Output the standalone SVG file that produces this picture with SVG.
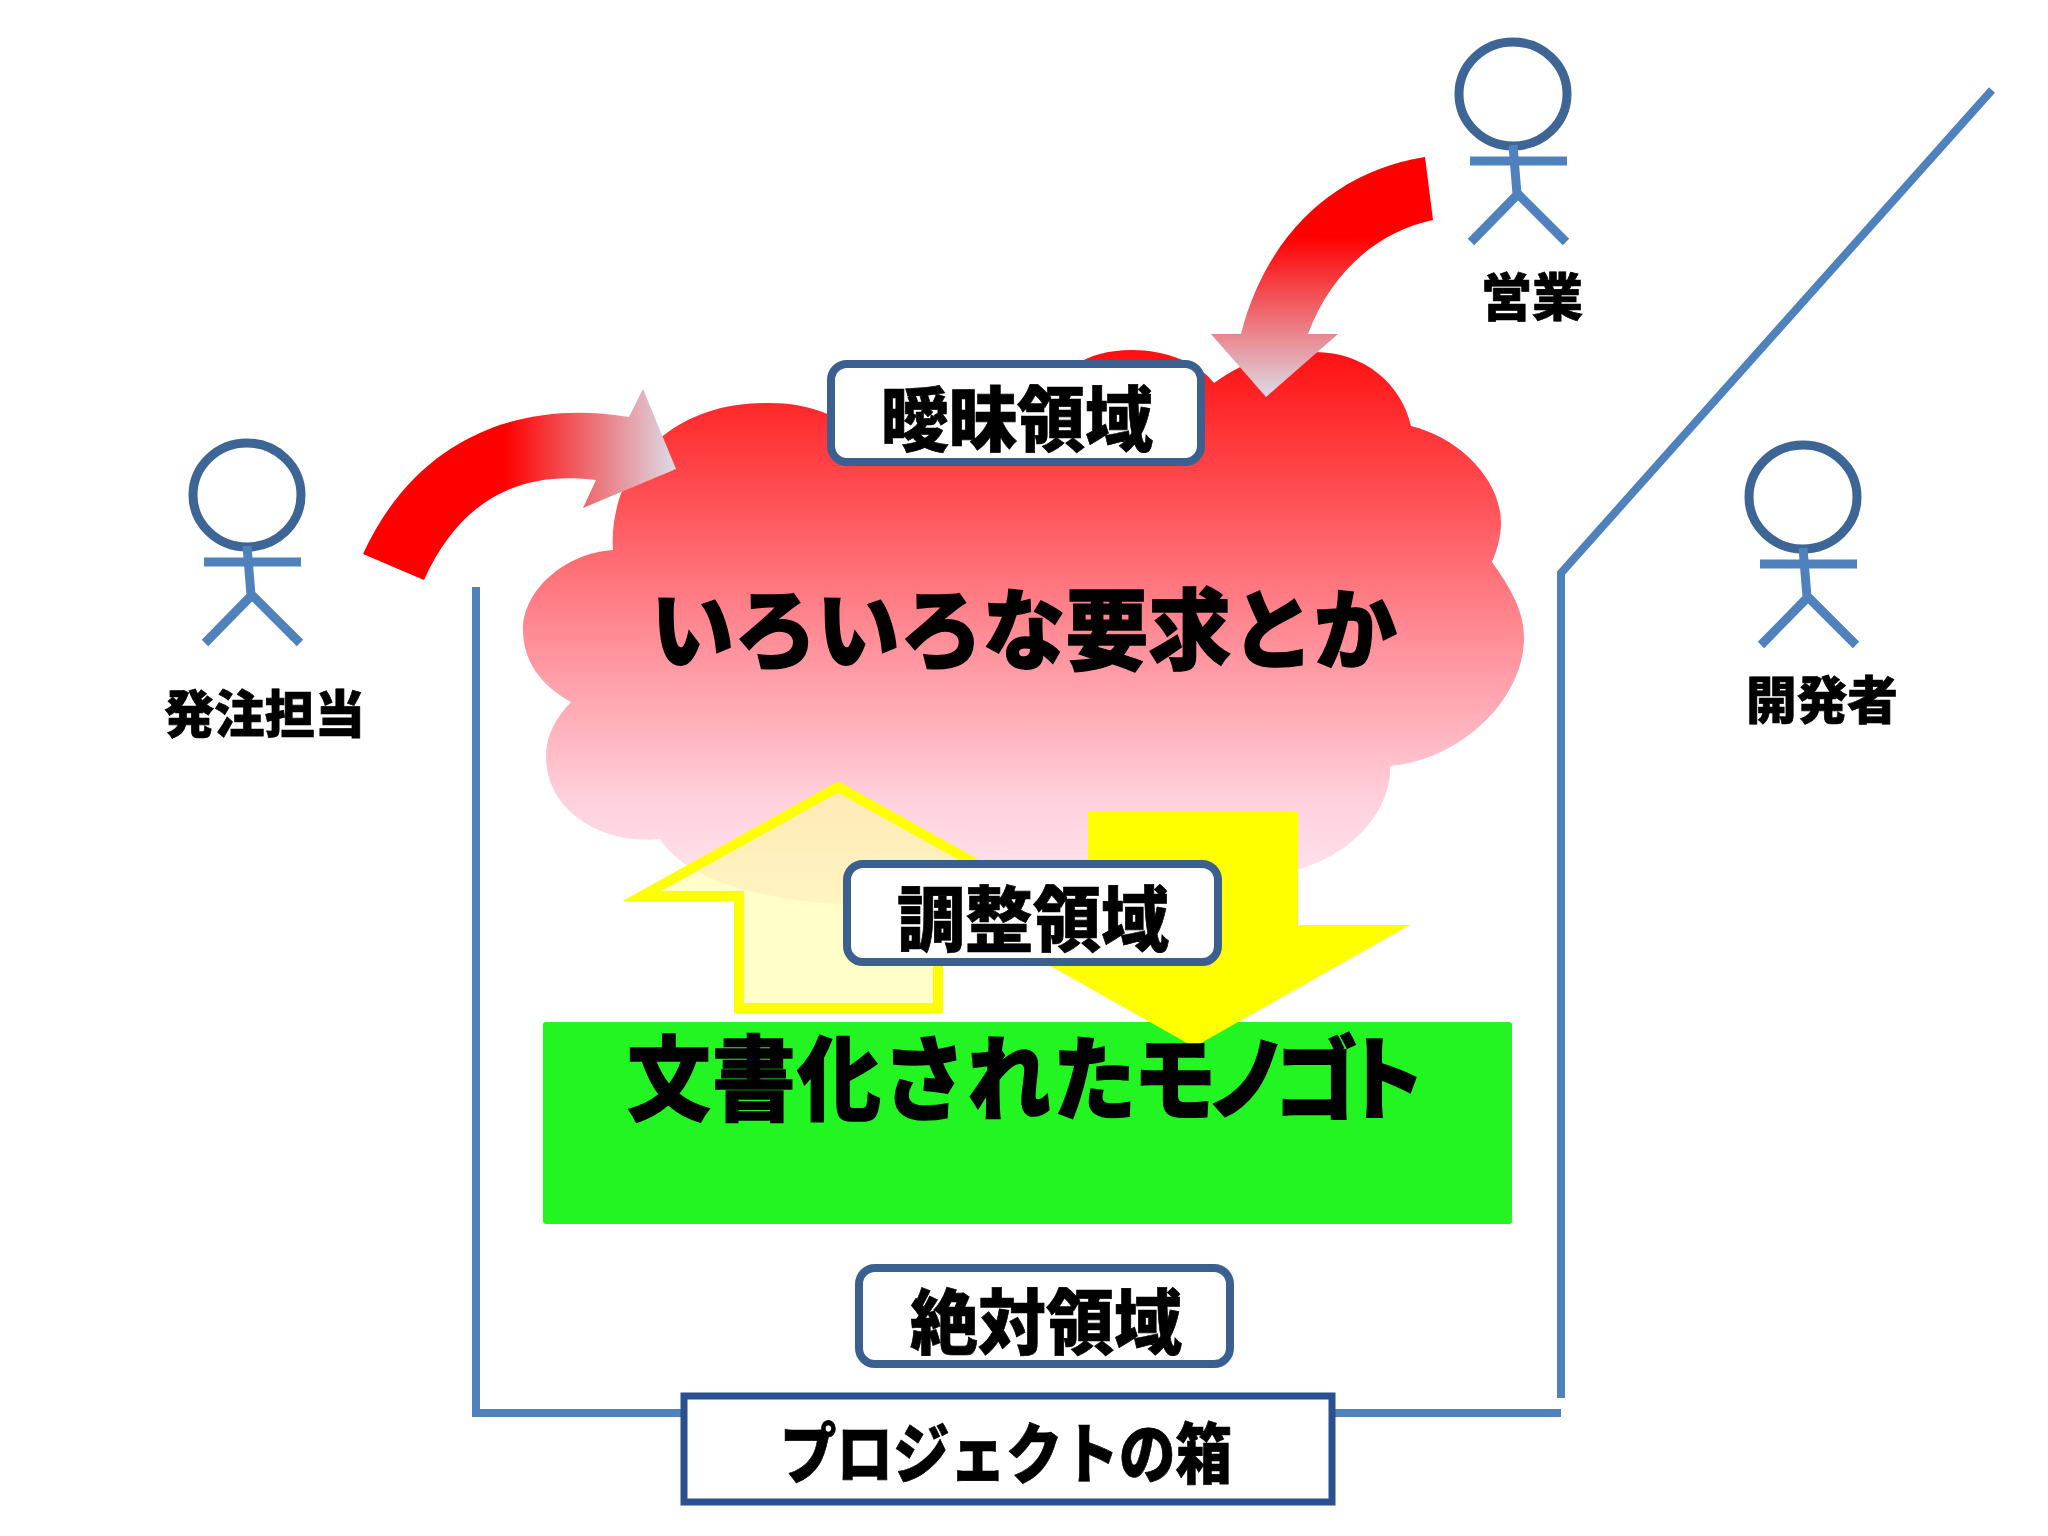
<svg xmlns="http://www.w3.org/2000/svg" width="2048" height="1536" viewBox="0 0 2048 1536">
<style>
text{font-family:"Noto Sans CJK JP","Noto Sans CJK SC",sans-serif;font-weight:900;fill:#000;stroke:#000;stroke-width:1.3;}
.sm{stroke-width:0.7;}
.lbl{fill:#fff;stroke:#3b6090;stroke-width:8;}
.wall{fill:none;stroke:#4f81bd;stroke-width:8;}
.head{fill:none;stroke:#3d6595;stroke-width:9;}
.limb{fill:none;stroke:#4f81bd;stroke-width:9;}
</style>
<defs>
<linearGradient id="cg" gradientUnits="userSpaceOnUse" x1="0" y1="350" x2="0" y2="910">
<stop offset="0" stop-color="#ff1010"/><stop offset="0.5" stop-color="#ff8a94"/><stop offset="0.8" stop-color="#ffd0dc"/><stop offset="1" stop-color="#fdeaf2"/>
</linearGradient>
<linearGradient id="a1" gradientUnits="userSpaceOnUse" x1="505" y1="0" x2="676" y2="0">
<stop offset="0" stop-color="#ff0000"/><stop offset="1" stop-color="#dcdce8"/>
</linearGradient>
<linearGradient id="a2" gradientUnits="userSpaceOnUse" x1="0" y1="237" x2="0" y2="397">
<stop offset="0" stop-color="#ff0000"/><stop offset="1" stop-color="#dcdce8"/>
</linearGradient>
<g id="person">
<ellipse class="head" cx="247" cy="495" rx="54" ry="52"/>
<path class="limb" d="M204,562H301M247,546L251,595M205,643L252,595L300,643"/>
</g>
</defs>
<rect width="2048" height="1536" fill="#fff"/>
<g id="box-walls">
<path class="wall" d="M476,587V1413H1561M1561,1398V573L1992,90"/>
</g>
<g id="cloud">
<path fill="url(#cg)" d="M613,550C608,480 660,402 768,403C795,403 815,407 840,420L1075,365C1090,355 1110,350 1132,350C1165,350 1198,362 1214,383C1245,360 1280,350 1315,352C1365,352 1402,385 1411,426C1460,438 1501,480 1501,523C1501,537 1497,550 1492,562C1512,590 1524,612 1524,638C1524,700 1460,760 1390,766C1392,800 1365,850 1297,870C1200,890 1100,905 1000,905L850,905C770,900 690,885 660,839C600,845 546,810 546,756C546,735 556,718 571,702C540,685 523,660 523,630C523,590 565,553 613,550Z"/>
<text x="651" y="662" font-size="88" textLength="746" lengthAdjust="spacingAndGlyphs">いろいろな要求とか</text>
</g>
<g id="document">
<rect x="543" y="1022" width="969" height="202" rx="3" fill="#22f522"/>
</g>
<g id="connectors">
<path id="arrow-client" fill="url(#a1)" d="M363,554C420,430 530,400 629,417L643,389L676,469L583,508L596,480C520,470 460,500 424,580Z"/>
<path id="arrow-sales" fill="url(#a2)" d="M1425,157C1330,172 1265,240 1241,334H1211L1266,397L1338,334H1308C1330,275 1375,232 1433,220Z"/>
<path id="arrow-up" fill="#ffff99" fill-opacity="0.55" stroke="#ffff00" stroke-width="10" d="M838,787L642,896H739V1008H938V896H1034Z"/>
<path id="arrow-down" fill="#ffff00" d="M1088,812H1298V925H1410L1194,1047L978,925H1088Z"/>
</g>
<g id="document-label">
<text transform="translate(627,1113) scale(0.91,1)" x="0 93.5 187 280.5 374 467.5 556 636 711 786" y="0" font-size="92">文書化されたモノゴト</text>
</g>
<g id="label-vague">
<rect class="lbl" x="831" y="364" width="370" height="98" rx="16"/>
<text class="sm" x="881" y="445" font-size="71" textLength="272" lengthAdjust="spacingAndGlyphs">曖昧領域</text>
</g>
<g id="label-adjust">
<rect class="lbl" x="847" y="864" width="371" height="98" rx="16"/>
<text class="sm" x="897" y="945" font-size="71" textLength="272" lengthAdjust="spacingAndGlyphs">調整領域</text>
</g>
<g id="label-absolute">
<rect class="lbl" x="859" y="1268" width="371" height="96" rx="16"/>
<text class="sm" x="910" y="1348" font-size="71" textLength="272" lengthAdjust="spacingAndGlyphs">絶対領域</text>
</g>
<g id="label-box">
<rect x="684" y="1396" width="648" height="106" fill="#fff" stroke="#2a5090" stroke-width="7"/>
<text class="sm" x="780" y="1478" font-size="66" textLength="452" lengthAdjust="spacingAndGlyphs">プロジェクトの箱</text>
</g>
<g id="person-client">
<use href="#person"/>
<text class="sm" x="164" y="733" font-size="51" textLength="201" lengthAdjust="spacingAndGlyphs">発注担当</text>
</g>
<g id="person-sales">
<use href="#person" transform="translate(1266,-401)"/>
<text class="sm" x="1481" y="316" font-size="51" textLength="102" lengthAdjust="spacingAndGlyphs">営業</text>
</g>
<g id="person-dev">
<use href="#person" transform="translate(1556,2)"/>
<text class="sm" x="1746" y="719" font-size="51" textLength="152" lengthAdjust="spacingAndGlyphs">開発者</text>
</g>
</svg>
